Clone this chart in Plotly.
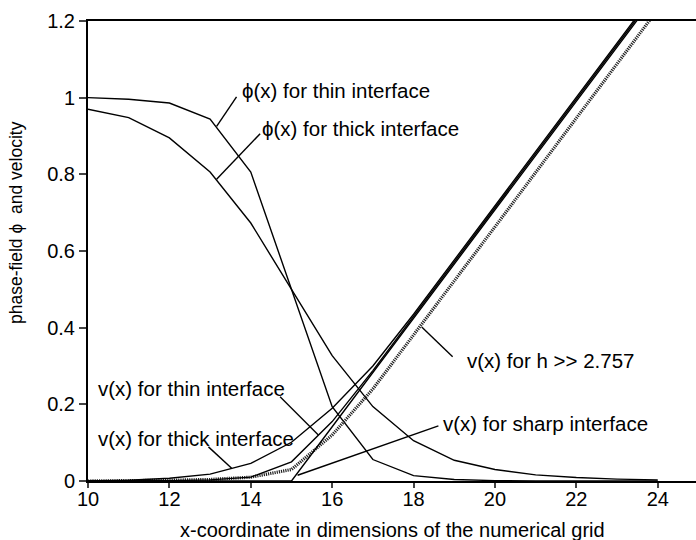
import plotly.graph_objects as go

# ---- data ----
x_grid = [10, 11, 12, 13, 14, 15, 16, 17, 18, 19, 20, 21, 22, 23, 24]
phi_thin = [1.0, 0.996, 0.986, 0.944, 0.806, 0.5, 0.194, 0.056, 0.014, 0.004, 0.001, 0.0, 0.0, 0.0, 0.0]
phi_thick = [0.97, 0.948, 0.895, 0.806, 0.673, 0.5, 0.327, 0.194, 0.105, 0.054, 0.03, 0.016, 0.009, 0.005, 0.003]
v_thin = [0.0, 0.0, 0.001, 0.003, 0.01, 0.05, 0.155, 0.288, 0.43, 0.571, 0.713, 0.854, 0.996, 1.137, 1.279]
v_thick = [0.0, 0.002, 0.007, 0.018, 0.046, 0.101, 0.19, 0.3, 0.435, 0.576, 0.718, 0.859, 1.001, 1.142, 1.284]
v_sharp = [0.0, 0.0, 0.0, 0.0, 0.0, 0.0, 0.1415, 0.283, 0.4245, 0.566, 0.7075, 0.849, 0.9905, 1.132, 1.2735]
v_h = [0.0, 0.0, 0.002, 0.004, 0.01, 0.03, 0.12, 0.24, 0.38, 0.522, 0.663, 0.805, 0.946, 1.088, 1.23]

x_ticks = [10, 12, 14, 16, 18, 20, 22, 24]
y_ticks = [0, 0.2, 0.4, 0.6, 0.8, 1.0, 1.2]

FONT = "Liberation Sans, Arial, Helvetica, sans-serif"
FS = 20.5

fig = go.Figure()
black = dict(color="black", width=1.4)
fig.add_trace(go.Scatter(x=x_grid, y=phi_thin, mode="lines", line=black))
fig.add_trace(go.Scatter(x=x_grid, y=phi_thick, mode="lines", line=black))
fig.add_trace(go.Scatter(x=x_grid, y=v_h, mode="lines",
                         line=dict(color="#222222", width=3.2, dash="1.2px,1px")))
fig.add_trace(go.Scatter(x=x_grid, y=v_thin, mode="lines", line=black))
fig.add_trace(go.Scatter(x=x_grid, y=v_thick, mode="lines", line=black))
fig.add_trace(go.Scatter(x=x_grid, y=v_sharp, mode="lines", line=black))

# labels: (text, text_x, text_y, leader_x0, leader_y0, leader_x1, leader_y1)
labels = [
    ("\u03d5(x) for thin interface", 13.80, 1.019, 13.16, 0.925, 13.65, 1.002),
    ("\u03d5(x) for thick interface", 14.29, 0.919, 13.16, 0.787, 14.23, 0.906),
    ("v(x) for thin interface", 10.28, 0.242, 14.72, 0.220, 15.66, 0.120),
    ("v(x) for thick interface", 10.28, 0.111, 12.96, 0.089, 13.53, 0.033),
    ("v(x) for h >> 2.757", 19.34, 0.315, 18.96, 0.324, 18.20, 0.402),
    ("v(x) for sharp interface", 18.75, 0.150, 18.61, 0.144, 15.15, 0.015),
]
annotations = []
shapes = []
for t, tx, ty, x0, y0, x1, y1 in labels:
    annotations.append(dict(x=tx, y=ty, xref="x", yref="y", text=t, showarrow=False,
                            xanchor="left", yanchor="middle", xshift=-3,
                            font=dict(family=FONT, size=FS, color="black")))
    shapes.append(dict(type="line", xref="x", yref="y", x0=x0, y0=y0, x1=x1, y1=y1,
                       line=dict(color="black", width=1.4)))

annotations.append(dict(x=0.5, y=0, xref="paper", yref="paper", yshift=-49,
                        text="x-coordinate in dimensions of the numerical grid",
                        showarrow=False, xanchor="center", yanchor="middle",
                        font=dict(family=FONT, size=20, color="black")))
annotations.append(dict(x=0, y=0.673, xref="paper", yref="y", xshift=-72,
                        text="phase-field \u03d5\u00a0 and velocity", textangle=-90,
                        showarrow=False, xanchor="center", yanchor="middle",
                        font=dict(family=FONT, size=17.5, color="black")))

fig.update_layout(
    width=696, height=540,
    margin=dict(l=88, r=0, t=21, b=59),
    paper_bgcolor="white", plot_bgcolor="white",
    showlegend=False,
    font=dict(family=FONT, size=20, color="black"),
    annotations=annotations,
    shapes=shapes,
)
fig.update_xaxes(range=[10, 24.94], tickvals=x_ticks, ticks="outside", ticklen=5,
                 tickwidth=1.5, showline=True, linecolor="black", linewidth=2,
                 mirror=True, showgrid=False, zeroline=False,
                 ticklabelstandoff=-6,
                 tickfont=dict(family=FONT, size=20))
fig.update_yaxes(range=[0, 1.2], tickvals=y_ticks, ticks="outside", ticklen=7,
                 tickwidth=1.5, showline=True, linecolor="black", linewidth=2,
                 showgrid=False, zeroline=False,
                 tickfont=dict(family=FONT, size=20))

fig.write_html("out.html")
